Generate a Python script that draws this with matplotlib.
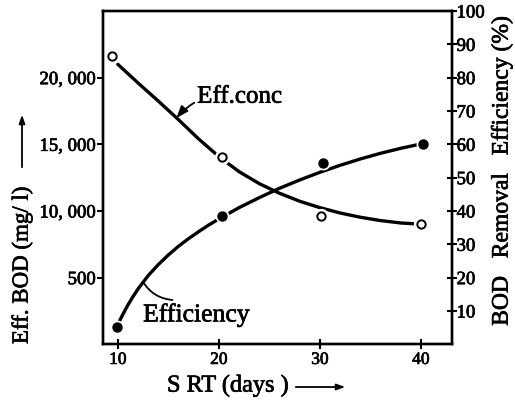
import matplotlib
matplotlib.use("Agg")
import matplotlib.pyplot as plt
import matplotlib.patheffects as pe

plt.rcParams["font.family"] = ["Liberation Serif", "DejaVu Serif"]
bold_fx = [pe.withStroke(linewidth=0.5, foreground="black")]

# measured points
srt_conc = [9.45, 20.3, 30.1, 40.0]
conc_obs = [21650, 14070, 9620, 9000]          # mg/l (left axis)
srt_eff = [9.9, 20.3, 30.3, 40.2]
eff_obs = [5.1, 38.6, 54.5, 60.1]              # % (right axis)

# hand-drawn fitted curves
conc_curve_x = [10, 12, 14, 16, 18, 20, 22, 24, 26, 28, 30, 32, 34, 36, 38, 39.5]
conc_curve_y = [21000, 19600, 18250, 16850, 15400, 14080, 12950, 12050,
                11330, 10730, 10250, 9850, 9530, 9280, 9100, 9030]
eff_curve_x = [10, 10.5, 11, 11.5, 12, 13, 14, 15, 16, 17, 18, 19, 20,
               22, 24, 26, 28, 30, 32, 34, 36, 38, 40]
eff_curve_y = [6.0, 9.0, 11.8, 14.3, 16.6, 20.6, 23.9, 26.8, 29.4, 31.7, 33.8,
               35.8, 37.6, 41.0, 44.0, 46.8, 49.3, 51.6, 53.7, 55.6, 57.3, 58.8, 60.1]

x_ticks = [10, 20, 30, 40]
left_ticks = [5000, 10000, 15000, 20000]
left_labels = ["500", "10, 000", "15, 000", "20, 000"]
right_ticks = [10, 20, 30, 40, 50, 60, 70, 80, 90, 100]

fig = plt.figure(figsize=(5.15, 4.03), dpi=100)
ax = fig.add_axes([0.1994, 0.1457, 0.6777, 0.827])
ax2 = ax.twinx()

ax.set_xlim(8.5, 43.05)
ax.set_ylim(0, 25000)
ax2.set_ylim(0, 100)

lw = 2.4
ax.plot(conc_curve_x, conc_curve_y, color="black", lw=lw, solid_capstyle="round", zorder=2)
ax.plot(srt_conc, conc_obs, "o", ms=10, color="white", zorder=3)
ax.plot(srt_conc, conc_obs, "o", ms=6, mfc="white", mec="black", mew=1.4, zorder=4)

ax2.plot(eff_curve_x, eff_curve_y, color="black", lw=lw, solid_capstyle="round", zorder=2)
ax2.plot(srt_eff, eff_obs, "o", ms=9, color="white", zorder=3)
ax2.plot(srt_eff, eff_obs, "o", ms=6.5, color="black", zorder=4)

for a in (ax, ax2):
    for s in a.spines.values():
        s.set_linewidth(1.7)

ax.set_xticks(x_ticks)
ax.set_yticks(left_ticks)
ax.set_yticklabels(left_labels)
ax2.set_yticks(right_ticks)
ax.tick_params(axis="x", direction="inout", length=7, width=1.5, labelsize=12.5, pad=2)
ax.tick_params(axis="y", direction="out", length=4, width=1.5, labelsize=13.5, pad=1)
ax2.tick_params(axis="y", direction="inout", length=7, width=1.5, labelsize=13.5, pad=0)
for lab in ax.get_xticklabels() + ax.get_yticklabels() + ax2.get_yticklabels():
    lab.set_path_effects(bold_fx)

# curve labels with leader lines
ax.annotate("Eff.conc", xy=(15.8, 16970), xytext=(17.85, 18570),
            fontsize=18, ha="left", va="center", path_effects=bold_fx,
            arrowprops=dict(arrowstyle="-|>,head_length=0.4,head_width=0.15",
                            color="black", lw=1.3, shrinkA=0, shrinkB=0,
                            connectionstyle="arc3,rad=0.3"))
ax2.annotate("", xy=(12.5, 18.7), xytext=(15.4, 13.3),
             arrowprops=dict(arrowstyle="-", color="black", lw=1.3,
                             shrinkA=0, shrinkB=0,
                             connectionstyle="arc3,rad=-0.25"))
ax2.text(12.5, 8.8, "Efficiency", fontsize=18.5, ha="left", va="center",
         path_effects=bold_fx)

# axis titles with their arrows
fig.text(167 / 515, 1 - 386 / 403, "S RT (days )", fontsize=17.5, ha="left",
         va="center", path_effects=bold_fx)
fig.add_artist(matplotlib.patches.FancyArrowPatch(
    (293 / 515, 1 - 387 / 403), (348 / 515, 1 - 387 / 403),
    transform=fig.transFigure, arrowstyle="-|>,head_length=0.5,head_width=0.18",
    color="black", lw=1.3, mutation_scale=10))

fig.text(22 / 515, 1 - 344 / 403, "Eff. BOD (mg/ l)", fontsize=16.5,
         rotation=90, ha="center", va="bottom", path_effects=bold_fx)
fig.add_artist(matplotlib.patches.FancyArrowPatch(
    (22 / 515, 1 - 170 / 403), (22 / 515, 1 - 112 / 403),
    transform=fig.transFigure, arrowstyle="-|>,head_length=0.5,head_width=0.18",
    color="black", lw=1.3, mutation_scale=10))

fig.text(502 / 515, 1 - 171 / 403, "BOD   Removal   Efficiency (%)", fontsize=17,
         rotation=90, ha="center", va="center", path_effects=bold_fx)

fig.savefig("out.png", dpi=100)
